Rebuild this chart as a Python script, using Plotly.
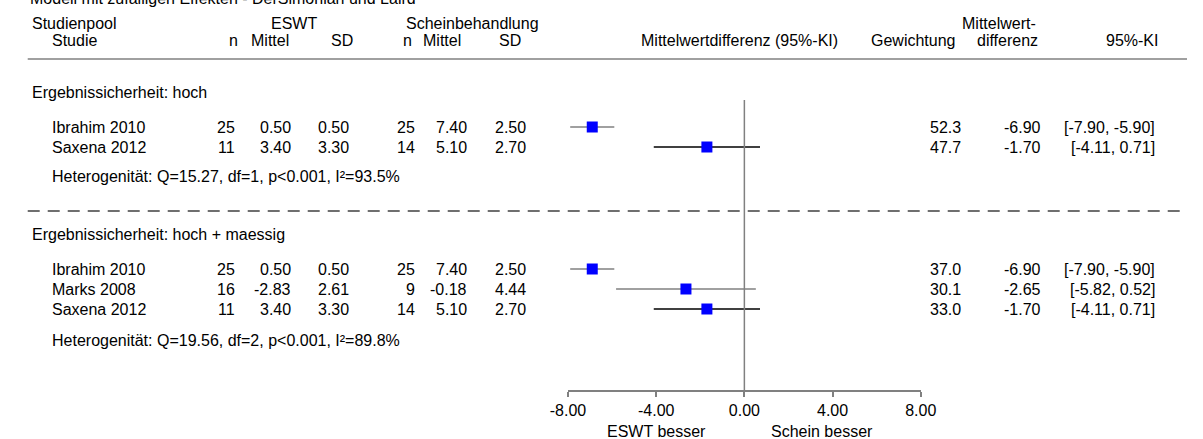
import plotly.graph_objects as go

# ---------------- data ----------------
title_text = "Modell mit zufälligen Effekten - DerSimonian und Laird"

g1_name = "Ergebnissicherheit: hoch"
g1_study = ["Ibrahim 2010", "Saxena 2012"]
g1_eswt_n = [25, 11]
g1_eswt_mean = [0.50, 3.40]
g1_eswt_sd = [0.50, 3.30]
g1_sham_n = [25, 14]
g1_sham_mean = [7.40, 5.10]
g1_sham_sd = [2.50, 2.70]
g1_weight = [52.3, 47.7]
g1_md = [-6.90, -1.70]
g1_lo = [-7.90, -4.11]
g1_hi = [-5.90, 0.71]
g1_het = "Heterogenität: Q=15.27, df=1, p<0.001, I²=93.5%"

g2_name = "Ergebnissicherheit: hoch + maessig"
g2_study = ["Ibrahim 2010", "Marks 2008", "Saxena 2012"]
g2_eswt_n = [25, 16, 11]
g2_eswt_mean = [0.50, -2.83, 3.40]
g2_eswt_sd = [0.50, 2.61, 3.30]
g2_sham_n = [25, 9, 14]
g2_sham_mean = [7.40, -0.18, 5.10]
g2_sham_sd = [2.50, 4.44, 2.70]
g2_weight = [37.0, 30.1, 33.0]
g2_md = [-6.90, -2.65, -1.70]
g2_lo = [-7.90, -5.82, -4.11]
g2_hi = [-5.90, 0.52, 0.71]
g2_het = "Heterogenität: Q=19.56, df=2, p<0.001, I²=89.8%"

tick_vals = [-8, -4, 0, 4, 8]
tick_text = ["-8.00", "-4.00", "0.00", "4.00", "8.00"]
label_left = "ESWT besser"
label_right = "Schein besser"

# ---------------- styles / layout ----------------
W, H = 1203, 439
FONT = "Liberation Sans, Arial, sans-serif"
FS = 16
GRAY = "#808080"
ci_color = {"Ibrahim 2010": "#808080", "Marks 2008": "#808080", "Saxena 2012": "#000000"}

# column positions (pixels)
X_GROUP = 12
X_STUDY = 33
COL_DATA = [225, 283, 343, 411, 464, 525]
COL_HEAD = [228, 281, 347, 408, 458, 520]
X_W = 972
X_MD = 1055
X_CI = 1172

# row positions (pixels from top)
Y_HEAD1, Y_HEAD2, Y_LINE = 23, 40, 59
Y_G1 = 92
Y_G1_ROWS = [127, 147]
Y_G1_HET = 176
Y_DASH = 211
Y_G2 = 234
Y_G2_ROWS = [269, 289, 309]
Y_G2_HET = 340
Y_AXIS = 391
Y_BESSER = 431

fig = go.Figure()
ann = []


def txt(xpx, ypx, s, anchor="left"):
    ann.append(dict(x=xpx / W, xref="paper", y=ypx, yref="y", text=s,
                    xanchor=anchor, yanchor="middle", showarrow=False,
                    font=dict(family=FONT, size=FS, color="black")))


# title (cut off at top of the picture)
ann.append(dict(x=10 / W, xref="paper", y=1 + 1.0 / H, yref="paper", text=title_text,
                xanchor="left", yanchor="middle", showarrow=False,
                font=dict(family=FONT, size=FS, color="black")))

# headers
txt(X_GROUP, Y_HEAD1, "Studienpool")
txt(X_STUDY, Y_HEAD2, "Studie")
ann.append(dict(x=284 / W, xref="paper", y=Y_HEAD1, yref="y", text="ESWT", xanchor="center",
                yanchor="middle", showarrow=False, font=dict(family=FONT, size=FS, color="black")))
txt(397, Y_HEAD1, "Scheinbehandlung")
for xp, s in zip(COL_HEAD, ["n", "Mittel", "SD", "n", "Mittel", "SD"]):
    txt(xp, Y_HEAD2, s, "right")
ann.append(dict(x=742 / W, xref="paper", y=Y_HEAD2, yref="y", text="Mittelwertdifferenz (95%-KI)",
                xanchor="center", yanchor="middle", showarrow=False,
                font=dict(family=FONT, size=FS, color="black")))
txt(967, Y_HEAD2, "Gewichtung", "right")
txt(1050, Y_HEAD1, "Mittelwert-", "right")
txt(1052, Y_HEAD2, "differenz", "right")
txt(1175, Y_HEAD2, "95%-KI", "right")


def group(name, ygrp, rows, study, en, em, esd, sn, sm, ssd, wt, md, lo, hi, het, yhet):
    txt(X_GROUP, ygrp, name)
    for i, y in enumerate(rows):
        txt(X_STUDY, y, study[i])
        vals = [f"{en[i]}", f"{em[i]:.2f}", f"{esd[i]:.2f}",
                f"{sn[i]}", f"{sm[i]:.2f}", f"{ssd[i]:.2f}"]
        for xp, v in zip(COL_DATA, vals):
            txt(xp, y, v, "right")
        txt(X_W, y, f"{wt[i]:.1f}", "right")
        txt(X_MD, y, f"{md[i]:.2f}", "right")
        txt(X_CI, y, f"[{lo[i]:.2f}, {hi[i]:.2f}]", "right")
        fig.add_trace(go.Scatter(x=[lo[i], hi[i]], y=[y, y], mode="lines",
                                 line=dict(color=ci_color[study[i]], width=1.5),
                                 hoverinfo="skip", showlegend=False))
    fig.add_trace(go.Scatter(x=md, y=rows, mode="markers",
                             marker=dict(symbol="square", size=11, color="#0000FF",
                                         line=dict(width=0)),
                             showlegend=False))
    txt(X_STUDY, yhet, het)


group(g1_name, Y_G1, Y_G1_ROWS, g1_study, g1_eswt_n, g1_eswt_mean, g1_eswt_sd,
      g1_sham_n, g1_sham_mean, g1_sham_sd, g1_weight, g1_md, g1_lo, g1_hi, g1_het, Y_G1_HET)
group(g2_name, Y_G2, Y_G2_ROWS, g2_study, g2_eswt_n, g2_eswt_mean, g2_eswt_sd,
      g2_sham_n, g2_sham_mean, g2_sham_sd, g2_weight, g2_md, g2_lo, g2_hi, g2_het, Y_G2_HET)

# besser labels
ann.append(dict(x=-1.63, xref="x", y=Y_BESSER, yref="y", text=label_left, xanchor="right",
                yanchor="middle", showarrow=False, font=dict(family=FONT, size=FS, color="black")))
ann.append(dict(x=1.1, xref="x", y=Y_BESSER, yref="y", text=label_right, xanchor="left",
                yanchor="middle", showarrow=False, font=dict(family=FONT, size=FS, color="black")))

shapes = [
    dict(type="line", xref="paper", x0=10 / W, x1=1, yref="y", y0=Y_LINE, y1=Y_LINE,
         line=dict(color=GRAY, width=1.5)),
    dict(type="line", xref="paper", x0=10 / W, x1=1, yref="y", y0=Y_DASH, y1=Y_DASH,
         line=dict(color="#404040", width=1.5, dash="12px,8px")),
    dict(type="line", xref="x", x0=0, x1=0, yref="y", y0=100, y1=Y_AXIS,
         line=dict(color=GRAY, width=1.5)),
]

fig.update_layout(
    width=W, height=H, margin=dict(l=0, r=0, t=0, b=0),
    paper_bgcolor="white", plot_bgcolor="white",
    showlegend=False, annotations=ann, shapes=shapes,
    font=dict(family=FONT, size=FS, color="black"),
    xaxis=dict(domain=[566 / W, 929 / W], range=[-8, 8], anchor="free",
               position=(H - Y_AXIS) / H, showline=True, linecolor=GRAY, linewidth=1.5,
               ticks="outside", ticklen=5, tickcolor=GRAY, tickwidth=1.5,
               tickvals=tick_vals, ticktext=tick_text, showgrid=False, zeroline=False,
               tickfont=dict(family=FONT, size=FS, color="black")),
    yaxis=dict(range=[H, 0], domain=[0, 1], visible=False, showgrid=False, zeroline=False),
)

fig.write_html("out.html", config={"displayModeBar": False},
               post_script="document.body.style.margin='0';")
